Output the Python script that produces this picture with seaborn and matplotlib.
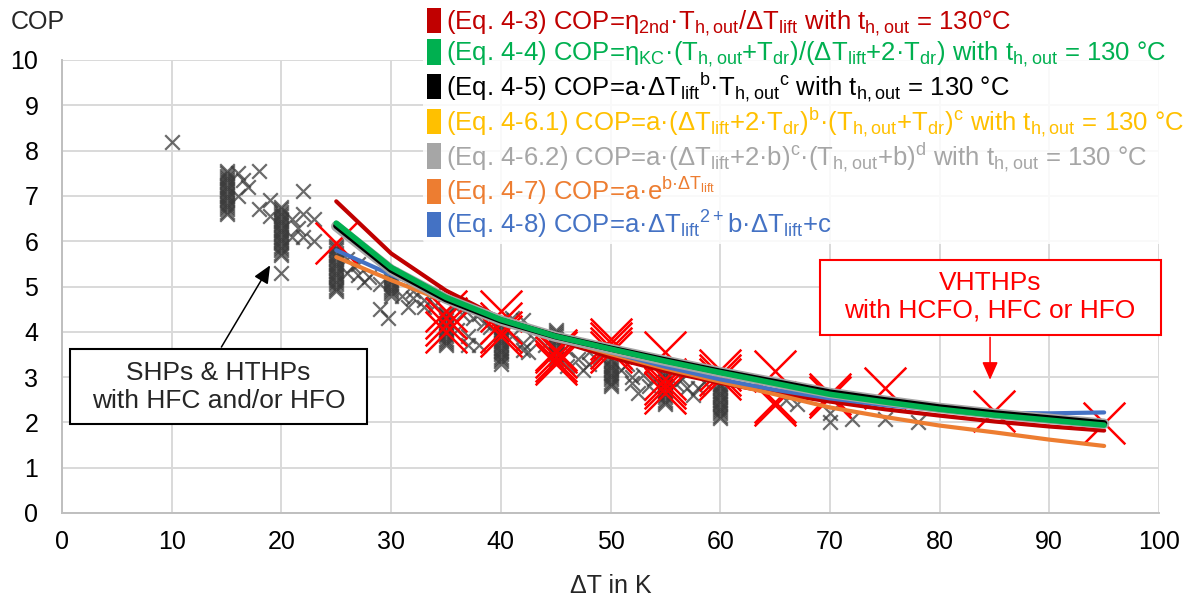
import numpy as np
import pandas as pd
import matplotlib
matplotlib.use("Agg")
import matplotlib.pyplot as plt
from matplotlib.patches import Patch, Rectangle
import seaborn as sns

# ---------------- data ----------------
curve_dT = [25, 30, 35, 40, 45, 50, 55, 60, 65, 70, 75, 80, 85, 90, 95]
cop_eq43 = [6.88, 5.73, 4.91, 4.30, 3.82, 3.44, 3.13, 2.87, 2.65, 2.46, 2.29, 2.15, 2.02, 1.91, 1.82]
cop_eq44 = [6.40, 5.42, 4.76, 4.27, 3.90, 3.62, 3.35, 3.10, 2.86, 2.62, 2.45, 2.29, 2.16, 2.05, 1.94]
cop_eq45 = [6.34, 5.37, 4.72, 4.25, 3.90, 3.63, 3.37, 3.12, 2.89, 2.66, 2.49, 2.33, 2.20, 2.09, 1.98]
cop_eq461 = [6.38, 5.40, 4.75, 4.26, 3.90, 3.62, 3.36, 3.11, 2.87, 2.64, 2.47, 2.31, 2.18, 2.07, 1.96]
cop_eq462 = [6.33, 5.37, 4.73, 4.25, 3.89, 3.62, 3.36, 3.11, 2.88, 2.65, 2.48, 2.32, 2.19, 2.08, 1.97]
cop_eq47 = [5.65, 5.14, 4.67, 4.24, 3.86, 3.51, 3.19, 2.90, 2.62, 2.33, 2.12, 1.93, 1.78, 1.62, 1.48]
cop_eq48 = [5.80, 5.26, 4.77, 4.32, 3.91, 3.55, 3.23, 2.95, 2.72, 2.53, 2.38, 2.27, 2.21, 2.20, 2.22]

labels = [
    "(Eq. 4-3) COP=η$_{2nd}$·T$_{h,out}$/ΔT$_{lift}$ with t$_{h,out}$ = 130°C",
    "(Eq. 4-4) COP=η$_{KC}$·(T$_{h,out}$+T$_{dr}$)/(ΔT$_{lift}$+2·T$_{dr}$) with t$_{h,out}$ = 130 °C",
    "(Eq. 4-5) COP=a·ΔT$_{lift}$$^{b}$·T$_{h,out}$$^{c}$ with t$_{h,out}$ = 130 °C",
    "(Eq. 4-6.1) COP=a·(ΔT$_{lift}$+2·T$_{dr}$)$^{b}$·(T$_{h,out}$+T$_{dr}$)$^{c}$ with t$_{h,out}$ = 130 °C",
    "(Eq. 4-6.2) COP=a·(ΔT$_{lift}$+2·b)$^{c}$·(T$_{h,out}$+b)$^{d}$ with t$_{h,out}$ = 130 °C",
    "(Eq. 4-7) COP=a·e$^{b·ΔT_{lift}}$",
    "(Eq. 4-8) COP=a·ΔT$_{lift}$$^{2+}$b·ΔT$_{lift}$+c",
]
colors = ["#C00000", "#00B050", "#000000", "#FFC000", "#A6A6A6", "#ED7D31", "#4472C4"]

# SHPs & HTHPs (grey crosses)
shp_dT = (
    [10]
    + [15] * 20
    + [16, 18, 17, 16, 19, 18, 16.5]
    + [20] * 23
    + [22, 19, 21, 22, 23, 21, 22, 23, 21.5]
    + [25] * 21
    + [26, 27, 28, 26.5, 27.5, 29, 26, 27]
    + [30] * 10
    + [29, 29.7, 31, 32, 33, 34, 31.5, 33, 32, 34]
    + [35] * 16
    + [36, 37, 38, 36.5, 37.5, 38.5, 39, 36, 38, 37]
    + [40] * 20
    + [41, 42, 42.5, 41, 42, 43, 44, 42]
    + [45] * 15
    + [46, 47, 48, 47.5, 49, 48, 46]
    + [50] * 13
    + [51, 52, 52, 52.5, 53, 54, 51.5, 53.5]
    + [55] * 15
    + [56, 57, 58, 57.5, 56.5, 58.5]
    + [60] * 16
    + [66, 67, 70, 70, 72, 75, 78]
)
shp_cop = (
    [8.2]
    + [7.55, 7.5, 7.45, 7.4, 7.35, 7.3, 7.25, 7.2, 7.15, 7.1, 7.05, 7.0, 6.95, 6.9, 6.85, 6.8, 6.75, 6.7, 6.65, 6.6]
    + [7.5, 7.55, 7.2, 7.0, 6.9, 6.7, 7.35]
    + [6.75, 6.7, 6.65, 6.6, 6.55, 6.5, 6.45, 6.4, 6.35, 6.3, 6.25, 6.2, 6.15, 6.1, 6.05, 6.0, 5.95, 5.9, 5.85, 5.8, 5.75, 5.7, 5.3]
    + [7.1, 6.55, 6.5, 6.6, 6.5, 6.1, 6.1, 6.0, 6.3]
    + [5.9, 5.85, 5.8, 5.75, 5.7, 5.65, 5.6, 5.55, 5.5, 5.45, 5.4, 5.35, 5.3, 5.25, 5.2, 5.15, 5.1, 5.05, 5.0, 4.95, 4.9]
    + [5.3, 5.25, 5.2, 5.45, 5.1, 5.05, 5.6, 5.5]
    + [5.25, 5.2, 5.15, 5.1, 5.05, 5.0, 4.95, 4.9, 4.85, 4.8]
    + [4.5, 4.3, 4.8, 4.75, 4.7, 4.6, 4.55, 4.55, 4.9, 4.85]
    + [4.45, 4.4, 4.35, 4.3, 4.25, 4.2, 4.15, 4.1, 4.05, 4.0, 3.95, 3.9, 3.85, 3.8, 3.75, 3.7]
    + [4.05, 3.9, 3.7, 4.4, 4.3, 4.2, 4.1, 4.6, 4.4, 3.7]
    + [4.25, 4.2, 4.15, 4.1, 4.05, 4.0, 3.95, 3.9, 3.85, 3.8, 3.75, 3.7, 3.65, 3.6, 3.55, 3.5, 3.45, 3.4, 3.35, 3.3]
    + [3.9, 3.75, 3.55, 4.3, 4.25, 3.85, 3.7, 3.6]
    + [4.05, 4.0, 3.95, 3.9, 3.85, 3.8, 3.75, 3.7, 3.65, 3.6, 3.55, 3.5, 3.45, 3.4, 3.35]
    + [3.6, 3.4, 3.3, 3.15, 3.45, 3.55, 3.25]
    + [3.4, 3.35, 3.3, 3.25, 3.2, 3.15, 3.1, 3.05, 3.0, 2.95, 2.9, 2.85, 2.8]
    + [3.15, 3.0, 2.88, 2.65, 3.05, 2.95, 3.3, 2.8]
    + [3.1, 3.05, 3.0, 2.95, 2.9, 2.85, 2.8, 2.75, 2.7, 2.65, 2.6, 2.55, 2.5, 2.45, 2.4]
    + [2.85, 2.75, 2.75, 2.6, 2.95, 2.9]
    + [2.85, 2.8, 2.75, 2.7, 2.65, 2.6, 2.55, 2.5, 2.45, 2.4, 2.35, 2.3, 2.25, 2.2, 2.15, 2.1]
    + [2.5, 2.4, 2.2, 2.0, 2.07, 2.07, 2.0]
)

# VHTHPs (red crosses)
vht_dT = [25, 35, 35, 35, 35, 40, 40, 40, 40, 45, 45, 45, 45, 45, 50, 50, 50, 50,
          55, 55, 55, 55, 55, 60, 60, 60, 65, 65, 65, 70, 70, 75, 85, 95]
vht_cop = [5.95, 4.45, 4.3, 4.15, 4.0, 4.45, 4.2, 4.0, 3.9, 3.6, 3.55, 3.45, 3.35, 3.3,
           3.85, 3.75, 3.65, 3.55, 3.55, 2.95, 2.85, 2.75, 2.65, 3.15, 3.05, 2.95,
           3.13, 2.45, 2.38, 2.62, 2.55, 2.77, 2.25, 1.98]

x_ticks = list(range(0, 101, 10))
y_ticks = list(range(0, 11))

# ---------------- style ----------------
sns.set_theme(style="whitegrid")
plt.rcParams["font.family"] = ["Liberation Sans", "DejaVu Sans"]
plt.rcParams["mathtext.default"] = "regular"

fig = plt.figure(figsize=(12.03, 5.97), dpi=100)
ax = fig.add_axes([62 / 1203, 1 - 513 / 597, 1097 / 1203, 453 / 597])
ax.set_facecolor("white")

# scatter points
shp_df = pd.DataFrame({"dT": shp_dT, "COP": shp_cop})
vht_df = pd.DataFrame({"dT": vht_dT, "COP": vht_cop})
sns.scatterplot(data=shp_df, x="dT", y="COP", marker="x", s=110, color="#3a3a3a",
                alpha=0.75, linewidth=1.6, ax=ax, zorder=3, legend=False)
sns.scatterplot(data=vht_df, x="dT", y="COP", marker="x", s=900, color="#FF0000",
                linewidth=1.8, ax=ax, zorder=4, legend=False)

# fitted curves
series = [cop_eq43, cop_eq44, cop_eq45, cop_eq461, cop_eq462, cop_eq47, cop_eq48]
widths = [3.0, 4.0, 4.5, 4.0, 7.5, 3.0, 3.0]
zorders = [5, 10, 9, 6, 8, 5, 5]
for vals, col, lw, z in zip(series, colors, widths, zorders):
    cdf = pd.DataFrame({"dT": curve_dT, "COP": vals})
    sns.lineplot(data=cdf, x="dT", y="COP", color=col, linewidth=lw, ax=ax,
                 estimator=None, sort=True, zorder=z, legend=False)

# axes
ax.set_xlim(0, 100)
ax.set_ylim(0, 10)
ax.set_xticks(x_ticks)
ax.set_yticks(y_ticks)
ax.grid(True, color="#D9D9D9", linewidth=1.4)
for s in ["top", "right"]:
    ax.spines[s].set_visible(False)
for s in ["left", "bottom"]:
    ax.spines[s].set_color("#BFBFBF")
    ax.spines[s].set_linewidth(1.4)
ax.tick_params(axis="both", length=0, labelsize=18, colors="#000000")
ax.tick_params(axis="x", pad=12.5)
ax.tick_params(axis="y", pad=17)
ax.set_xlabel("ΔT in K", fontsize=18, labelpad=14)
ax.set_ylabel("")
fig.text(38 / 1203, 1 - 22 / 597, "COP", fontsize=18, ha="center", va="center")

# annotations
ax.add_patch(Rectangle((0.73, 1.96), 27.1, 1.65, facecolor="white", edgecolor="black",
                       linewidth=1.5, zorder=12))
ax.text(14.27, 2.79, "SHPs & HTHPs\nwith HFC and/or HFO", ha="center", va="center",
        fontsize=19, linespacing=1.2, zorder=13)
ax.annotate("", xy=(19.1, 5.52), xytext=(14.4, 3.61),
            arrowprops=dict(arrowstyle="-|>,head_length=0.9,head_width=0.4", color="black", lw=1.1),
            zorder=13)

ax.add_patch(Rectangle((69.1, 3.94), 31.1, 1.65, facecolor="white", edgecolor="#FF0000",
                       linewidth=1.5, zorder=12, clip_on=False))
ax.text(84.6, 4.78, "VHTHPs\nwith HCFO, HFC or HFO", ha="center", va="center",
        fontsize=19, color="#FF0000", linespacing=1.2, zorder=13)
ax.annotate("", xy=(84.6, 2.88), xytext=(84.6, 3.94),
            arrowprops=dict(arrowstyle="-|>,head_length=0.9,head_width=0.4", color="#FF0000", lw=1.1),
            zorder=13)

# legend
handles = [Patch(facecolor=c, edgecolor="none") for c in colors]
leg = ax.legend(handles, labels, loc="upper left", bbox_to_anchor=(0.329, 1.124),
                borderaxespad=0, fontsize=18.5, frameon=True, handlelength=0.55,
                handleheight=1.15, handletextpad=0.2, labelspacing=0.05, borderpad=0.15)
leg.get_frame().set_facecolor("white")
leg.get_frame().set_alpha(0.85)
leg.get_frame().set_edgecolor("none")
leg.set_zorder(20)
for t, c in zip(leg.get_texts(), colors):
    t.set_color(c)

fig.savefig("out.png", dpi=100)
